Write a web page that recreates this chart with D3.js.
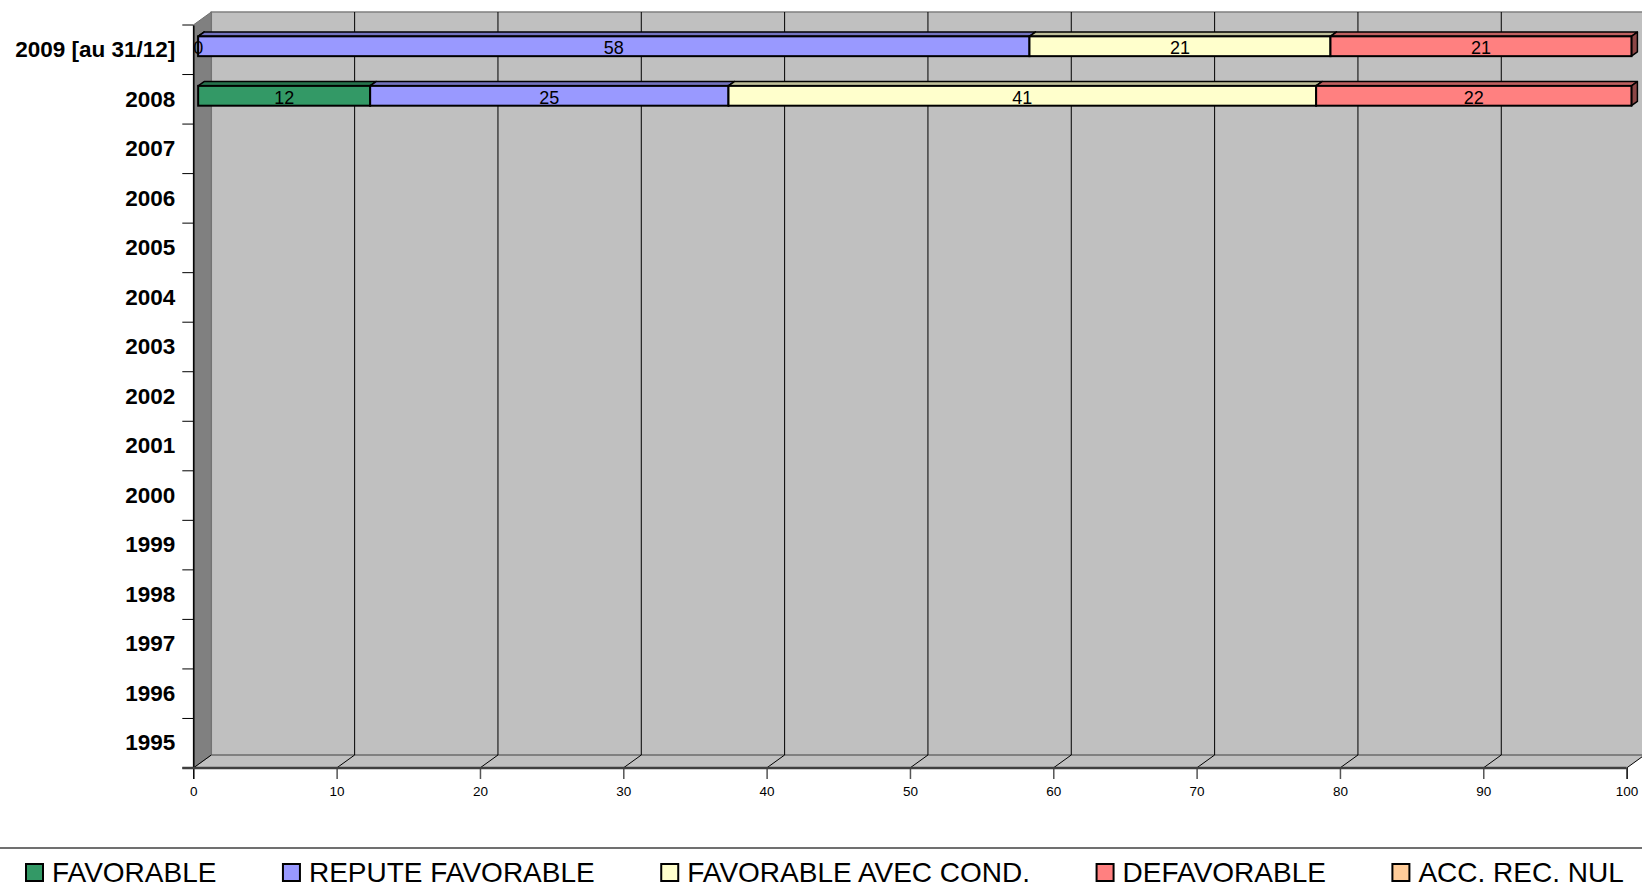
<!DOCTYPE html>
<meta charset="utf-8">
<style>
body { margin: 0; background: #fff; }
text { font-family: Arial, "Liberation Sans", sans-serif; }
</style>
<body>
<script src="https://d3js.org/d3.v7.min.js"></script>
<script>

// categories, top to bottom
var categories = ["2009 [au 31/12]", "2008", "2007", "2006", "2005", "2004", "2003",
                  "2002", "2001", "2000", "1999", "1998", "1997", "1996", "1995"];

var seriesNames = ["FAVORABLE", "REPUTE FAVORABLE", "FAVORABLE AVEC COND.", "DEFAVORABLE", "ACC. REC. NUL"];
var seriesColors = ["#339966", "#9999ff", "#ffffcc", "#ff8080", "#ffcc99"];

// percentages per year (null = no value)
var favorable      = [0,  12, null, null, null, null, null, null, null, null, null, null, null, null, null];
var reputeFav      = [58, 25, null, null, null, null, null, null, null, null, null, null, null, null, null];
var favAvecCond    = [21, 41, null, null, null, null, null, null, null, null, null, null, null, null, null];
var defavorable    = [21, 22, null, null, null, null, null, null, null, null, null, null, null, null, null];
var accRecNul      = [null, null, null, null, null, null, null, null, null, null, null, null, null, null, null];

var xTicks = [0, 10, 20, 30, 40, 50, 60, 70, 80, 90, 100];

var seriesValues = [favorable, reputeFav, favAvecCond, defavorable, accRecNul];

var W = 1642, H = 891;
// 3D depth of the plot box
var depthX = 18, depthY = -13;
// bar sits between these depth fractions
var barFront = 0.27, barBack = 0.6;

var x = d3.scaleLinear().domain([0, 100]).range([193.3, 1626.6]);
var y = d3.scaleBand().domain(categories).range([25, 768]);

var svg = d3.select("body").append("svg")
    .attr("width", W)
    .attr("height", H);

var x0 = x.range()[0], x1 = x.range()[1];
var yTop = y.range()[0], yBot = y.range()[1];

// back wall
svg.append("rect")
    .attr("x", x0 + depthX)
    .attr("y", yTop + depthY)
    .attr("width", x1 - x0)
    .attr("height", yBot - yTop)
    .attr("fill", "#c0c0c0")
    .attr("stroke", "#808080")
    .attr("stroke-width", 1.5);

// floor
svg.append("path")
    .attr("d", "M" + x0 + "," + yBot + "L" + (x0 + depthX) + "," + (yBot + depthY) +
               "L" + (x1 + depthX) + "," + (yBot + depthY) + "L" + x1 + "," + yBot + "Z")
    .attr("fill", "#c0c0c0");
svg.append("line")
    .attr("x1", x0 + depthX).attr("x2", x1 + depthX)
    .attr("y1", yBot + depthY).attr("y2", yBot + depthY)
    .attr("stroke", "#808080")
    .attr("stroke-width", 2);

// side wall
svg.append("path")
    .attr("d", "M" + x0 + "," + yTop + "L" + (x0 + depthX) + "," + (yTop + depthY) +
               "L" + (x0 + depthX) + "," + (yBot + depthY) + "L" + x0 + "," + yBot + "Z")
    .attr("fill", "#808080")
    .attr("stroke", "#707070")
    .attr("stroke-width", 1);

// gridlines on back wall and floor
var grid = svg.append("g");
grid.selectAll(".gv")
    .data(xTicks.slice(1))
  .enter().append("line")
    .attr("x1", function(d) { return x(d) + depthX; })
    .attr("x2", function(d) { return x(d) + depthX; })
    .attr("y1", yTop + depthY)
    .attr("y2", yBot + depthY)
    .attr("stroke", "#000")
    .attr("stroke-width", 1);
grid.selectAll(".gf")
    .data(xTicks)
  .enter().append("line")
    .attr("x1", function(d) { return x(d); })
    .attr("x2", function(d) { return x(d) + depthX; })
    .attr("y1", yBot)
    .attr("y2", yBot + depthY)
    .attr("stroke", "#000")
    .attr("stroke-width", 1);

// stacked segments
var rows = categories.map(function(c, i) {
  var acc = 0, segs = [];
  seriesValues.forEach(function(vals, s) {
    var v = vals[i];
    if (v !== null) {
      segs.push({cat: c, s: s, v: v, from: acc, to: acc + v});
      acc += v;
    }
  });
  return segs;
});
var segments = [].concat.apply([], rows);

var barH = y.bandwidth() * 0.4;
var fdx = depthX * barFront, fdy = depthY * barFront;
var bdx = depthX * barBack, bdy = depthY * barBack;

function frontY(d) { return y(d.cat) + (y.bandwidth() - barH) / 2 + fdy; }

var bars = svg.append("g");
segments.forEach(function(d) {
  var xa = x(d.from) + fdx, xb = x(d.to) + fdx, yt = frontY(d), yb = yt + barH;
  var col = d3.color(seriesColors[d.s]);
  var top = d3.rgb(col.r * 0.75, col.g * 0.75, col.b * 0.75);
  var side = d3.rgb(col.r * 0.55, col.g * 0.55, col.b * 0.55);
  var g = bars.append("g");
  // top face
  g.append("path")
      .attr("d", "M" + xa + "," + yt + "L" + (xa + bdx - fdx) + "," + (yt + bdy - fdy) +
                 "L" + (xb + bdx - fdx) + "," + (yt + bdy - fdy) + "L" + xb + "," + yt + "Z")
      .attr("fill", top)
      .attr("stroke", "#000")
      .attr("stroke-width", 1.5)
      .attr("stroke-linejoin", "round");
  // right side face
  g.append("path")
      .attr("d", "M" + xb + "," + yt + "L" + (xb + bdx - fdx) + "," + (yt + bdy - fdy) +
                 "L" + (xb + bdx - fdx) + "," + (yb + bdy - fdy) + "L" + xb + "," + yb + "Z")
      .attr("fill", side)
      .attr("stroke", "#000")
      .attr("stroke-width", 1.5)
      .attr("stroke-linejoin", "round");
  // front face
  g.append("rect")
      .attr("x", xa)
      .attr("y", yt)
      .attr("width", xb - xa)
      .attr("height", barH)
      .attr("fill", col)
      .attr("stroke", "#000")
      .attr("stroke-width", 2);
});

// data labels
svg.append("g").selectAll("text")
    .data(segments)
  .enter().append("text")
    .attr("x", function(d) { return (x(d.from) + x(d.to)) / 2 + fdx; })
    .attr("y", function(d) { return frontY(d) + barH / 2 + 2; })
    .attr("text-anchor", "middle")
    .attr("dominant-baseline", "central")
    .attr("font-size", "18px")
    .attr("fill", "#000")
    .text(function(d) { return d.v; });

// y axis
var yAxis = svg.append("g")
    .attr("transform", "translate(" + x0 + ",0)")
    .call(d3.axisLeft(y).tickSize(0).tickPadding(18));
yAxis.select(".domain").attr("stroke", "#000").attr("stroke-width", 1.5);
yAxis.selectAll("text")
    .attr("font-family", "Arial, 'Liberation Sans', sans-serif")
    .attr("font-size", "22.5px")
    .attr("font-weight", "bold")
    .attr("fill", "#000");
yAxis.selectAll(".bnd")
    .data(d3.range(categories.length + 1))
  .enter().append("line")
    .attr("x1", -11).attr("x2", 0)
    .attr("y1", function(i) { return yTop + i * y.step(); })
    .attr("y2", function(i) { return yTop + i * y.step(); })
    .attr("stroke", "#000")
    .attr("stroke-width", 1);

// x axis
var xAxis = svg.append("g")
    .attr("transform", "translate(0," + yBot + ")")
    .call(d3.axisBottom(x).tickValues(xTicks).tickSize(11).tickSizeOuter(0).tickPadding(7));
xAxis.select(".domain").remove();
xAxis.append("line")
    .attr("x1", x0 - 11).attr("x2", x1)
    .attr("y1", 0).attr("y2", 0)
    .attr("stroke", "#404040")
    .attr("stroke-width", 2.5);
xAxis.selectAll(".tick line")
    .attr("stroke", function(d) { return (d === 0 || d === 100) ? "#000" : "#555"; })
    .attr("stroke-width", 1.5);
xAxis.selectAll("text")
    .attr("font-family", "Arial, 'Liberation Sans', sans-serif")
    .attr("font-size", "13.5px")
    .attr("fill", "#000");

// legend
svg.append("line")
    .attr("x1", 0).attr("x2", W)
    .attr("y1", 848).attr("y2", 848)
    .attr("stroke", "#404040")
    .attr("stroke-width", 1.5);

var legend = svg.append("g");
var lx = 26;
seriesNames.forEach(function(name, i) {
  legend.append("rect")
      .attr("x", lx)
      .attr("y", 864)
      .attr("width", 17)
      .attr("height", 17)
      .attr("fill", seriesColors[i])
      .attr("stroke", "#000")
      .attr("stroke-width", 2);
  var t = legend.append("text")
      .attr("x", lx + 26)
      .attr("y", 882)
      .attr("font-size", "28px")
      .attr("fill", "#000")
      .text(name);
  lx = lx + 26 + t.node().getComputedTextLength() + 66.5;
});

</script>
</body>
